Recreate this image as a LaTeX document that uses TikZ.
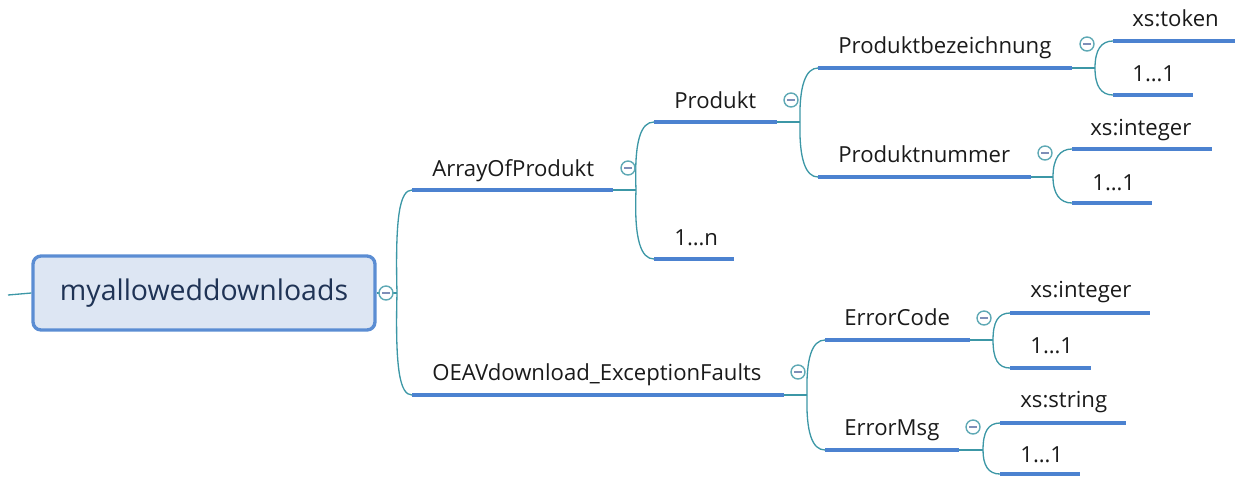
\documentclass[tikz,border=0pt]{standalone}
\usepackage{fontspec}
\setmainfont{Open Sans}
\definecolor{ulblue}{HTML}{4C82D0}
\definecolor{conncol}{HTML}{3C97A6}
\definecolor{circcol}{HTML}{5FA9B5}
\definecolor{minuscol}{HTML}{7F8FB8}
\definecolor{rootfill}{HTML}{DDE6F3}
\definecolor{rootdraw}{HTML}{5B8DD3}
\definecolor{txtcol}{HTML}{1A1A1A}
\definecolor{roottxt}{HTML}{1F3355}
\begin{document}
\begin{tikzpicture}[x=0.02cm,y=-0.02cm,
  lbl/.style={anchor=base west, inner sep=0pt, text=txtcol, font=\fontsize{12.6pt}{14pt}\selectfont},
  uline/.style={draw=ulblue, line width=2.6pt},
  conn/.style={draw=conncol, line width=0.75pt},
  collapse/.style={circle, draw=circcol, fill=white, minimum size=0.28cm, inner sep=0pt, line width=0.8pt,
    path picture={\draw[minuscol, line width=0.6pt] ([xshift=-0.08cm]path picture bounding box.center) -- ([xshift=0.08cm]path picture bounding box.center);}},
  rootbox/.style={draw=rootdraw, fill=rootfill, line width=1.9pt, rounded corners=0.16cm, minimum width=6.84cm, minimum height=1.48cm, inner sep=0pt, text=roottxt, font=\fontsize{16.2pt}{18pt}\selectfont}
]
\useasboundingbox (0,0) rectangle (1236,478);

% root
\coordinate (stub) at (8,295);
\node[rootbox] (root) at (204,293) {myalloweddownloads};
\draw[conn] (stub) .. controls (20,294) .. (root.west);
\coordinate (J0) at (397,293);

% level 1
\coordinate (aopS) at (412,190); \coordinate (aopE) at (613,190); \coordinate (J1) at (636,190);
\node[lbl] (aop) at (432,176) {ArrayOfProdukt};
\coordinate (oeS) at (412,395); \coordinate (oeE) at (784,395); \coordinate (J2) at (807,395);
\node[lbl] (oe) at (432,380) {OEAVdownload\_ExceptionFaults};

% level 2 (ArrayOfProdukt)
\coordinate (prS) at (654,122); \coordinate (prE) at (777,122); \coordinate (J3) at (800,122);
\node[lbl] (pr) at (674,108) {Produkt};
\coordinate (nS) at (654,259); \coordinate (nE) at (734,259);
\node[lbl] (n) at (674,245) {1…n};

% level 3 (Produkt)
\coordinate (pbS) at (818,68); \coordinate (pbE) at (1072,68); \coordinate (J4) at (1095,68);
\node[lbl] (pb) at (838,53) {Produktbezeichnung};
\coordinate (pnS) at (818,177); \coordinate (pnE) at (1031,177); \coordinate (J5) at (1053,177);
\node[lbl] (pn) at (838,162) {Produktnummer};

% level 4
\coordinate (tkS) at (1113,41); \coordinate (tkE) at (1235,41);
\node[lbl] (tk) at (1132,26) {xs:token};
\coordinate (a1S) at (1113,95); \coordinate (a1E) at (1193,95);
\node[lbl] (a1) at (1132,81) {1…1};
\coordinate (inS) at (1072,149); \coordinate (inE) at (1212,149);
\node[lbl] (in) at (1090,135) {xs:integer};
\coordinate (b1S) at (1072,203); \coordinate (b1E) at (1152,203);
\node[lbl] (b1) at (1092,190) {1…1};

% level 2 (OEAV)
\coordinate (ecS) at (825,340); \coordinate (ecE) at (970,340); \coordinate (J6) at (993,340);
\node[lbl] (ec) at (844,325) {ErrorCode};
\coordinate (emS) at (825,450); \coordinate (emE) at (959,450); \coordinate (J7) at (983,450);
\node[lbl] (em) at (844,435) {ErrorMsg};

\coordinate (i2S) at (1010,313); \coordinate (i2E) at (1150,313);
\node[lbl] (i2) at (1030,297) {xs:integer};
\coordinate (c1S) at (1010,368); \coordinate (c1E) at (1091,368);
\node[lbl] (c1) at (1030,353) {1…1};
\coordinate (stS) at (1000,423); \coordinate (stE) at (1126,423);
\node[lbl] (st) at (1020,407) {xs:string};
\coordinate (d1S) at (1000,474); \coordinate (d1E) at (1080,474);
\node[lbl] (d1) at (1020,462) {1…1};

% connectors: stubs
\draw[conn] (root.east) -- (J0);
\foreach \e/\j in {aopE/J1, oeE/J2, prE/J3, pbE/J4, pnE/J5, ecE/J6, emE/J7}
  \draw[conn] (\e) -- (\j);

% connectors: branch curves
\draw[conn] (J0) .. controls (395,215) and (400,190) .. (aopS);
\draw[conn] (J0) .. controls (395,370) and (400,395) .. (oeS);
\draw[conn] (J1) .. controls (634,140) and (641,122) .. (prS);
\draw[conn] (J1) .. controls (634,240) and (641,259) .. (nS);
\draw[conn] (J3) .. controls (799,85) and (806,68) .. (pbS);
\draw[conn] (J3) .. controls (799,160) and (806,177) .. (pnS);
\draw[conn] (J4) .. controls (1095,50) and (1101,41) .. (tkS);
\draw[conn] (J4) .. controls (1095,86) and (1101,95) .. (a1S);
\draw[conn] (J5) .. controls (1053,158) and (1060,149) .. (inS);
\draw[conn] (J5) .. controls (1053,194) and (1060,203) .. (b1S);
\draw[conn] (J2) .. controls (806,358) and (812,340) .. (ecS);
\draw[conn] (J2) .. controls (806,432) and (812,450) .. (emS);
\draw[conn] (J6) .. controls (993,322) and (998,313) .. (i2S);
\draw[conn] (J6) .. controls (993,359) and (998,368) .. (c1S);
\draw[conn] (J7) .. controls (983,432) and (988,423) .. (stS);
\draw[conn] (J7) .. controls (983,465) and (988,474) .. (d1S);

% underlines
\foreach \s/\e in {aopS/aopE, oeS/oeE, prS/prE, nS/nE, pbS/pbE, pnS/pnE, tkS/tkE, a1S/a1E, inS/inE, b1S/b1E, ecS/ecE, emS/emE, i2S/i2E, c1S/c1E, stS/stE, d1S/d1E}
  \draw[uline] (\s) -- (\e);

% collapse markers
\node[collapse] (k0) at (386,293) {};
\node[collapse] (k1) at (628,168) {};
\node[collapse] (k2) at (798,372) {};
\node[collapse] (k3) at (791,100) {};
\node[collapse] (k4) at (1087,44) {};
\node[collapse] (k5) at (1045,153) {};
\node[collapse] (k6) at (984,318) {};
\node[collapse] (k7) at (973,427) {};
\end{tikzpicture}
\end{document}
